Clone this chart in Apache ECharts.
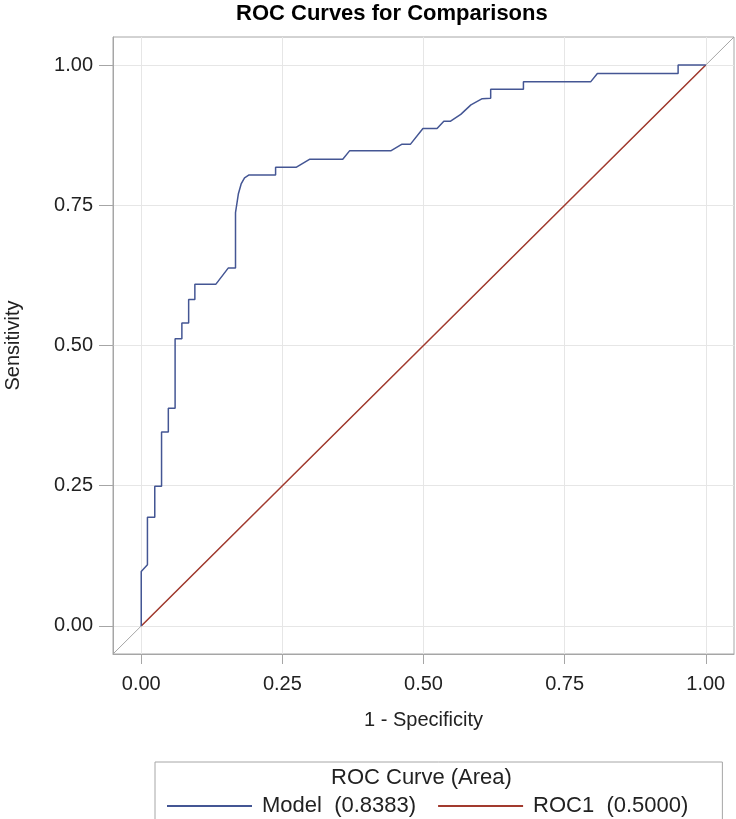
<!DOCTYPE html>
<html>
<head>
<meta charset="utf-8">
<script src="https://cdn.jsdelivr.net/npm/echarts@6/dist/echarts.min.js"></script>
<style>
  html, body { margin: 0; padding: 0; background: #fff; }
  #main { width: 736px; height: 819px; }
</style>
</head>
<body>
<div id="main"></div>
<script>
// ROC curve points (1 - specificity, sensitivity)
const modelX = [0, 0, 0.011, 0.011, 0.024, 0.024, 0.036, 0.036, 0.048, 0.048, 0.060, 0.060,
  0.072, 0.072, 0.084, 0.084, 0.095, 0.095, 0.132, 0.154, 0.167, 0.167, 0.172, 0.177, 0.183,
  0.191, 0.238, 0.238, 0.275, 0.298, 0.357, 0.369, 0.442, 0.462, 0.477, 0.499, 0.524, 0.536,
  0.548, 0.566, 0.584, 0.604, 0.619, 0.619, 0.677, 0.677, 0.796, 0.808, 0.951, 0.951, 1]
const modelY = [0, 0.097, 0.109, 0.194, 0.194, 0.249, 0.249, 0.346, 0.346, 0.388, 0.388, 0.512,
  0.512, 0.540, 0.540, 0.582, 0.582, 0.609, 0.609, 0.638, 0.638, 0.737, 0.770, 0.788, 0.799,
  0.804, 0.804, 0.818, 0.818, 0.832, 0.832, 0.847, 0.847, 0.859, 0.859, 0.887, 0.887, 0.900,
  0.900, 0.912, 0.929, 0.940, 0.941, 0.957, 0.957, 0.970, 0.970, 0.985, 0.985, 1, 1]
const roc1X = [0, 1]
const roc1Y = [0, 1]
const diagX = [-0.05, 1.05]
const diagY = [-0.05, 1.05]
const tickValues = [0, 0.25, 0.5, 0.75, 1]
const seriesNames = ['Model  (0.8383)', 'ROC1  (0.5000)']

const pairs = (xs, ys) => xs.map((x, i) => [x, ys[i]])

const font = 'Liberation Sans, Arial, sans-serif'
const gridColor = '#e6e6e6'
const frameColor = '#a6a6a6'

const axisCommon = {
  type: 'value',
  min: -0.05,
  max: 1.05,
  nameLocation: 'middle',
  nameTextStyle: { fontFamily: font, fontSize: 20, color: '#222' },
  axisLine: { show: true, onZero: false, lineStyle: { color: frameColor } },
  axisTick: { show: true, customValues: tickValues, length: 10, lineStyle: { color: frameColor } },
  axisLabel: {
    customValues: tickValues, fontFamily: font, fontSize: 20, color: '#222',
    formatter: v => v.toFixed(2)
  },
  splitLine: { show: true, lineStyle: { color: gridColor, width: 1 } }
}

const chart = echarts.init(document.getElementById('main'))
chart.setOption({
  animation: false,
  backgroundColor: '#fff',
  title: [
    {
      text: 'ROC Curves for Comparisons',
      left: 236, top: 3, padding: 0,
      textStyle: { fontFamily: font, fontSize: 22, fontWeight: 'bold', color: '#000' }
    },
    {
      text: 'ROC Curve (Area)',
      left: 331, top: 767, padding: 0,
      textStyle: { fontFamily: font, fontSize: 22, fontWeight: 'normal', color: '#222' }
    }
  ],
  grid: {
    left: 113, right: 2, top: 37, bottom: 165,
    outerBoundsMode: 'none',
    show: true, borderColor: frameColor, borderWidth: 1
  },
  xAxis: Object.assign({}, axisCommon, {
    name: '1 - Specificity', nameGap: 56,
    axisLabel: Object.assign({}, axisCommon.axisLabel, { margin: 20 })
  }),
  yAxis: Object.assign({}, axisCommon, {
    name: 'Sensitivity', nameGap: 90,
    axisLabel: Object.assign({}, axisCommon.axisLabel, { margin: 20 }),
    axisTick: Object.assign({}, axisCommon.axisTick, { length: 14 })
  }),
  legend: {
    data: seriesNames,
    left: 155, top: 762,
    padding: [33, 34, 6, 12],
    borderColor: frameColor, borderWidth: 1,
    icon: 'rect', itemWidth: 85, itemHeight: 2, itemGap: 22,
    textStyle: { fontFamily: font, fontSize: 22, color: '#222', padding: [0, 0, 0, 5] }
  },
  series: [
    {
      name: 'diag', type: 'line', data: pairs(diagX, diagY), showSymbol: false, silent: true,
      lineStyle: { color: '#a6a6a6', width: 1 }, itemStyle: { color: '#a6a6a6' }, z: 1
    },
    {
      name: seriesNames[1], type: 'line', data: pairs(roc1X, roc1Y), showSymbol: false,
      lineStyle: { color: '#a23a2e', width: 1.5 }, itemStyle: { color: '#a23a2e' }, z: 2
    },
    {
      name: seriesNames[0], type: 'line', data: pairs(modelX, modelY), showSymbol: false,
      lineStyle: { color: '#445694', width: 1.5 }, itemStyle: { color: '#445694' }, z: 3
    }
  ]
})
</script>
</body>
</html>
